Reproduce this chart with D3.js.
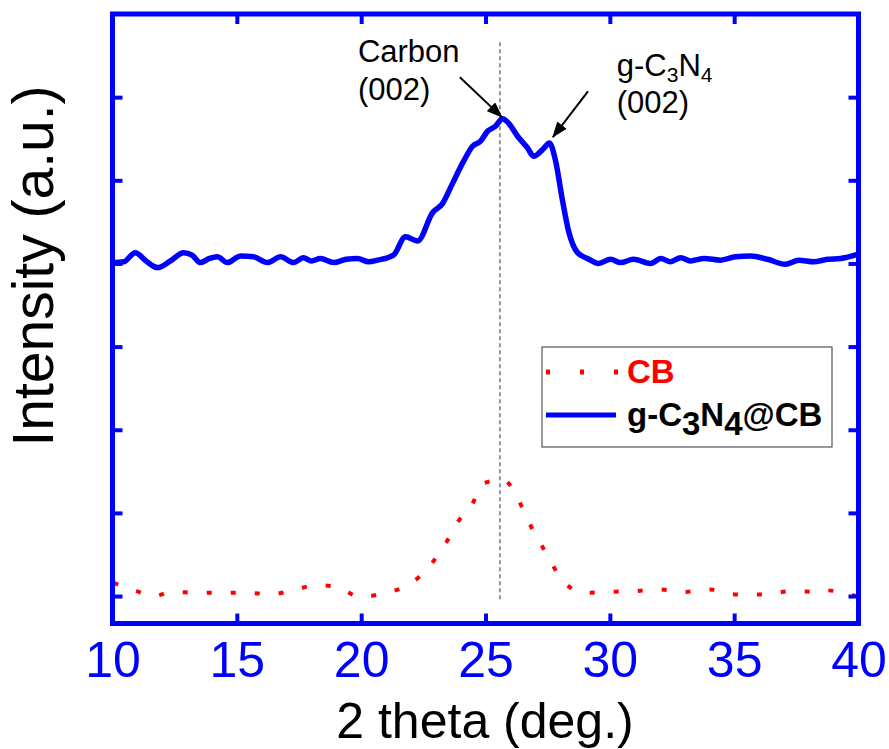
<!DOCTYPE html>
<html>
<head>
<meta charset="utf-8">
<script src="https://cdnjs.cloudflare.com/ajax/libs/d3/7.8.5/d3.min.js"></script>
<style>
  body { margin: 0; background: #fff; }
  text { font-family: "Liberation Sans", Arial, sans-serif; }
</style>
</head>
<body>
<script>
// data (2 theta in deg., intensity in a.u. with offset)
var xTicks = [10, 15, 20, 25, 30, 35, 40];
var yTicks = [0, 1, 2, 3, 4, 5, 6];

var gcnTheta = [10.00, 10.45, 10.92, 11.35, 11.81, 12.33, 12.86, 13.20, 13.54, 13.90, 14.22, 14.62, 15.15, 15.67,
  16.23, 16.76, 17.28, 17.68, 18.00, 18.36, 18.89, 19.40, 19.85, 20.30, 20.66, 21.30, 21.78, 22.27, 22.87, 23.27, 23.67,
  24.12, 24.48, 24.80, 25.08, 25.40, 25.68, 25.92, 26.29, 26.69, 26.93, 27.33, 27.57, 27.82, 28.10,
  28.34, 28.70, 29.10, 29.54, 30.03, 30.43, 30.95, 31.64, 32.05, 32.44, 32.85, 33.24, 33.80, 34.45, 35.05, 35.66, 36.34, 37.06,
  37.60, 38.19, 38.75, 39.28, 39.96];
var gcnValue = [4.01, 4.02, 4.13, 4.03, 3.95, 4.03, 4.13, 4.10, 4.01, 4.06, 4.08, 4.01, 4.09, 4.08,
  4.01, 4.08, 4.01, 4.07, 4.03, 4.06, 4.01, 4.05, 4.06, 4.02, 4.04, 4.10, 4.32, 4.27, 4.61, 4.72, 4.96,
  5.23, 5.41, 5.47, 5.59, 5.65, 5.74, 5.69, 5.53, 5.39, 5.29, 5.38, 5.45, 5.23, 4.75,
  4.39, 4.13, 4.06, 4.00, 4.05, 4.01, 4.05, 4.00, 4.06, 4.02, 4.07, 4.03, 4.06, 4.04, 4.08, 4.09, 4.05, 3.99,
  4.04, 4.02, 4.05, 4.06, 4.11];

var cbTheta = [10.04, 10.97, 11.69, 12.41, 13.42, 14.42, 15.39, 16.35, 17.28, 18.20, 19.05, 19.93,
  20.98, 21.94, 22.75, 23.43, 24.03, 24.32, 24.96, 25.72, 26.33, 26.81, 27.41, 28.02, 28.94,
  29.91, 31.03, 32.00, 33.00, 34.01, 35.05, 36.18, 37.35, 38.43, 38.63, 39.88];
var cbValue = [0.16, 0.06, 0.00, 0.05, 0.04, 0.04, 0.04, 0.02, 0.07, 0.13, 0.11, -0.01,
  0.04, 0.14, 0.36, 0.65, 0.95, 1.03, 1.36, 1.40, 1.15, 0.85, 0.53, 0.22, 0.04,
  0.05, 0.06, 0.08, 0.05, 0.08, 0.02, 0.02, 0.06, 0.05, 0.07, 0.00];

var peakLine = {theta: 25.58, from: -0.07, to: 6.66};

// set the dimensions and margins of the graph
var margin = {top: 14, left: 112.5},
    width = 746,
    height = 609.5;

var svg = d3.select("body")
  .append("svg")
    .attr("width", 889)
    .attr("height", 749);

var g = svg.append("g")
    .attr("transform", "translate(" + margin.left + "," + margin.top + ")");

var x = d3.scaleLinear().domain([10, 40]).range([0, width]);
var y = d3.scaleLinear().domain([-0.33, 7]).range([height, 0]);

var defs = svg.append("defs");
defs.append("clipPath").attr("id", "clip")
  .append("rect").attr("width", width).attr("height", height);

defs.append("marker")
    .attr("id", "arrow")
    .attr("markerUnits", "userSpaceOnUse")
    .attr("viewBox", "0 0 16 12")
    .attr("refX", 15).attr("refY", 6)
    .attr("markerWidth", 16).attr("markerHeight", 12)
    .attr("orient", "auto")
  .append("path")
    .attr("d", "M0,0 L16,6 L0,12 Z")
    .attr("fill", "#000");

// dashed marker line at the carbon peak
g.append("line")
    .attr("x1", x(peakLine.theta)).attr("x2", x(peakLine.theta))
    .attr("y1", y(peakLine.to)).attr("y2", y(peakLine.from))
    .attr("stroke", "#555")
    .attr("stroke-width", 1.2)
    .attr("stroke-dasharray", "4,3");

var line = d3.line()
    .x(function(d) { return x(d[0]) })
    .y(function(d) { return y(d[1]) })
    .curve(d3.curveMonotoneX);

var cbData = cbTheta.map(function(t, i) { return [t, cbValue[i]]; });
var gcnData = gcnTheta.map(function(t, i) { return [t, gcnValue[i]]; });

var plot = g.append("g").attr("clip-path", "url(#clip)");

plot.append("path")
    .datum(cbData)
    .attr("fill", "none")
    .attr("stroke", "#ff0000")
    .attr("stroke-width", 4)
    .attr("stroke-dasharray", "5,19")
    .attr("d", line);

plot.append("path")
    .datum(gcnData)
    .attr("fill", "none")
    .attr("stroke", "#0000ff")
    .attr("stroke-width", 5.5)
    .attr("stroke-linejoin", "round")
    .attr("d", line);

// annotations
var ann = g.append("g").attr("font-size", "31px").attr("fill", "#000");
ann.append("text").attr("x", x(19.87)).attr("y", y(6.42)).text("Carbon");
ann.append("text").attr("x", x(19.87)).attr("y", y(5.96)).text("(002)");
var gt = ann.append("text").attr("x", x(30.28)).attr("y", y(6.26));
gt.append("tspan").text("g-C");
gt.append("tspan").attr("font-size", "21px").attr("dy", 6).text("3");
gt.append("tspan").attr("dy", -6).text("N");
gt.append("tspan").attr("font-size", "21px").attr("dy", 6).text("4");
ann.append("text").attr("x", x(30.28)).attr("y", y(5.81)).text("(002)");

g.append("line")
    .attr("x1", x(23.97)).attr("y1", y(6.24))
    .attr("x2", x(25.66)).attr("y2", y(5.76))
    .attr("stroke", "#000").attr("stroke-width", 2)
    .attr("marker-end", "url(#arrow)");
g.append("line")
    .attr("x1", x(29.12)).attr("y1", y(6.07))
    .attr("x2", x(27.71)).attr("y2", y(5.52))
    .attr("stroke", "#000").attr("stroke-width", 2)
    .attr("marker-end", "url(#arrow)");

// legend
var legend = svg.append("g").attr("transform", "translate(542,347)");
legend.append("rect")
    .attr("width", 290).attr("height", 100)
    .attr("fill", "#fff").attr("stroke", "#555").attr("stroke-width", 1.2);
legend.append("line")
    .attr("x1", 4).attr("x2", 76).attr("y1", 25).attr("y2", 25)
    .attr("stroke", "#ff0000").attr("stroke-width", 5)
    .attr("stroke-dasharray", "4,30");
legend.append("text")
    .attr("x", 85).attr("y", 36)
    .attr("font-size", "33px").attr("font-weight", "bold").attr("fill", "#ff0000")
    .text("CB");
legend.append("line")
    .attr("x1", 4).attr("x2", 74).attr("y1", 68).attr("y2", 68)
    .attr("stroke", "#0000ff").attr("stroke-width", 5);
var lt = legend.append("text")
    .attr("x", 85).attr("y", 79)
    .attr("font-size", "33px").attr("font-weight", "bold").attr("fill", "#000");
lt.append("tspan").text("g-C");
lt.append("tspan").attr("dy", 9).text("3");
lt.append("tspan").attr("dy", -9).text("N");
lt.append("tspan").attr("dy", 9).text("4");
lt.append("tspan").attr("dy", -9).text("@CB");

// axes: ticks point inward on all four sides
function styleAxis(sel) {
  sel.select(".domain").remove();
  sel.selectAll(".tick line").attr("stroke", "#0000ff").attr("stroke-width", 4);
}

var xb = g.append("g")
    .attr("transform", "translate(0," + height + ")")
    .call(d3.axisBottom(x).tickValues(xTicks).tickSize(-10));
styleAxis(xb);
xb.selectAll(".tick text")
    .attr("dy", null)
    .attr("y", 53.5)
    .attr("fill", "#0000ff")
    .attr("font-size", "50px")
    .attr("font-family", "'Liberation Sans', Arial, sans-serif");

var xt = g.append("g")
    .call(d3.axisTop(x).tickValues(xTicks).tickSize(-10).tickFormat(""));
styleAxis(xt);

var yl = g.append("g")
    .call(d3.axisLeft(y).tickValues(yTicks).tickSize(-10).tickFormat(""));
styleAxis(yl);

var yr = g.append("g")
    .attr("transform", "translate(" + width + ",0)")
    .call(d3.axisRight(y).tickValues(yTicks).tickSize(-10).tickFormat(""));
styleAxis(yr);

// frame
g.append("rect")
    .attr("width", width).attr("height", height)
    .attr("fill", "none")
    .attr("stroke", "#0000ff")
    .attr("stroke-width", 5);

// axis titles
svg.append("text")
    .attr("x", 485).attr("y", 738)
    .attr("text-anchor", "middle")
    .attr("font-size", "50px")
    .text("2 theta (deg.)");

svg.append("text")
    .attr("transform", "translate(53,266) rotate(-90)")
    .attr("text-anchor", "middle")
    .attr("font-size", "57px")
    .text("Intensity (a.u.)");
</script>
</body>
</html>
